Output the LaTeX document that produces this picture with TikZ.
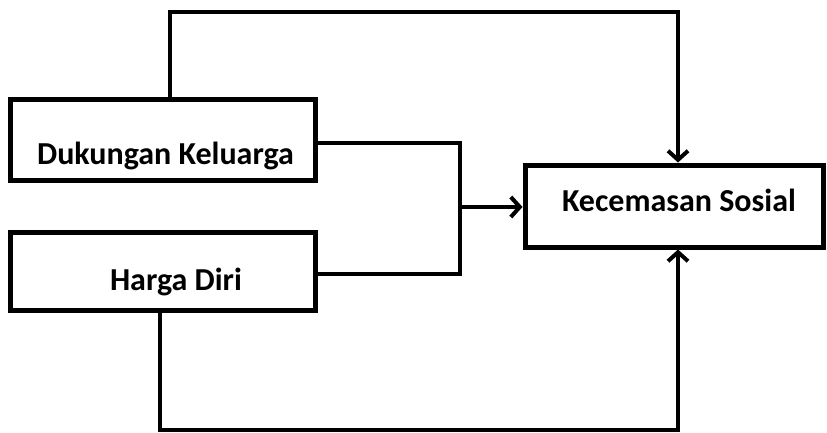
\documentclass[tikz,border=0pt]{standalone}
\usepackage{fontspec}
\setmainfont{Carlito}
\usetikzlibrary{arrows.meta}
\begin{document}
\begin{tikzpicture}[x=1pt,y=-1pt,
  box/.style={draw=black,line width=5pt,fill=white,inner sep=0pt},
  lbl/.style={font=\fontsize{32}{36}\selectfont\bfseries,inner sep=0pt},
  conn/.style={draw=black,line width=4pt},
  arr/.style={conn,-{Straight Barb[length=9pt,width=20pt,line width=4pt]}}]
\useasboundingbox (0,0) rectangle (827,433);
\node[box,minimum width=305pt,minimum height=80pt] (dk) at (162.5,140) {};
\node[box,minimum width=305pt,minimum height=78pt] (hd) at (162.5,271) {};
\node[box,minimum width=298pt,minimum height=82pt] (ks) at (674,206) {};
\node[lbl] (dkt) at (165.5,156) {Dukungan Keluarga};
\node[lbl] (hdt) at (176,282) {Harga Diri};
\node[lbl] (kst) at (679,200) {Kecemasan Sosial};
\coordinate (tN) at (170,12);
\coordinate (bL) at (160,430);
\coordinate (m) at (460,207);
\draw[arr] (dk.north -| tN) -- (tN) -| ([xshift=4pt]ks.north);
\draw[conn] ([yshift=-3pt]dk.east) -| (m);
\draw[conn] ([yshift=-3pt]hd.east) -| (m);
\draw[arr] (m) -- (ks.west |- m);
\draw[arr] (hd.south -| bL) -- (bL) -| ([xshift=4pt]ks.south);
\end{tikzpicture}
\end{document}
